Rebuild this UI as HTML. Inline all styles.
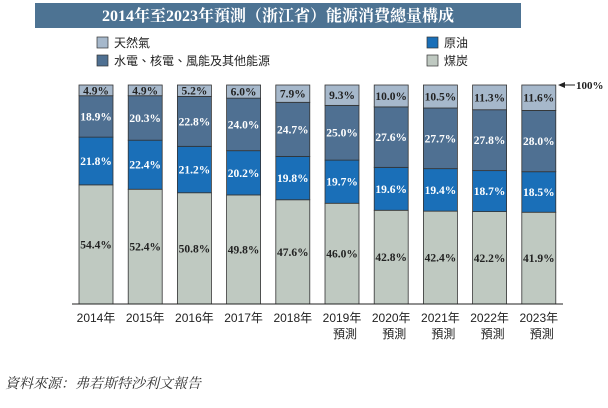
<!DOCTYPE html>
<html><head><meta charset="utf-8"><style>
body{margin:0;background:#fff;width:608px;height:403px;overflow:hidden;font-family:"Liberation Sans","Noto Sans CJK TC",sans-serif}
</style></head><body>
<svg id="chart" width="608" height="403" xmlns="http://www.w3.org/2000/svg">
<rect x="35" y="3" width="486" height="25" fill="#4d7393"/>
<text x="278" y="21" text-anchor="middle" fill="#fff" font-size="16" font-weight="bold" font-family="Liberation Serif,Noto Serif CJK SC,serif">2014年至2023年預測（浙江省）能源消費總量構成</text>
<g>
<rect x="97" y="37" width="11" height="11" fill="#a6b8cb" stroke="#333" stroke-width="0.7"/>
<text x="114" y="47" font-size="12" fill="#222">天然氣</text>
<rect x="97" y="55" width="11" height="11" fill="#4f7092" stroke="#333" stroke-width="0.7"/>
<text x="114" y="65" font-size="12" fill="#222">水電、核電、風能及其他能源</text>
<rect x="427" y="37" width="11" height="11" fill="#1a6fb8" stroke="#333" stroke-width="0.7"/>
<text x="444" y="47" font-size="12" fill="#222">原油</text>
<rect x="427" y="55" width="11" height="11" fill="#bfc9c1" stroke="#333" stroke-width="0.7"/>
<text x="444" y="65" font-size="12" fill="#222">煤炭</text>
</g>
<g id="bars"></g>
<line x1="72" y1="304" x2="563" y2="304" stroke="#222" stroke-width="1"/>
<g>
<line x1="562" y1="85" x2="575" y2="85" stroke="#222" stroke-width="1"/>
<polygon points="558,85 565,82 565,88" fill="#222"/>
<text x="576" y="89" font-size="11" font-weight="bold" font-family="Liberation Serif,serif" fill="#222">100%</text>
</g>
<text x="5" y="388" font-size="14" font-style="italic" fill="#333" font-family="Liberation Serif,Noto Serif CJK SC,serif">資料來源：弗若斯特沙利文報告</text>
</svg>
<script>
const years=["2014年","2015年","2016年","2017年","2018年","2019年","2020年","2021年","2022年","2023年"];
const forecast=[false,false,false,false,false,true,true,true,true,true];
const coal=[54.4,52.4,50.8,49.8,47.6,46.0,42.8,42.4,42.2,41.9];
const oil=[21.8,22.4,21.2,20.2,19.8,19.7,19.6,19.4,18.7,18.5];
const hydro=[18.9,20.3,22.8,24.0,24.7,25.0,27.6,27.7,27.8,28.0];
const gas=[4.9,4.9,5.2,6.0,7.9,9.3,10.0,10.5,11.3,11.6];
const NS="http://www.w3.org/2000/svg";
const g=document.getElementById('bars');
const base=304,top_=85,x0=79,pitch=49.2,bw=34;
function yScale(v){return base-(v/100)*(base-top_);}
function xPos(i){return x0+i*pitch;}
const series=[{vals:coal,fill:"#bfc9c1",tc:"#222",n:"coal"},{vals:oil,fill:"#1a6fb8",tc:"#fff",n:"oil"},{vals:hydro,fill:"#4f7092",tc:"#fff",n:"hydro"},{vals:gas,fill:"#a6b8cb",tc:"#222",n:"gas"}];
years.forEach((yr,i)=>{
  const tot=coal[i]+oil[i]+hydro[i]+gas[i];
  let cum=0;
  series.forEach(s=>{
    const v=s.vals[i]*100/tot;
    const y1=yScale(cum+v),y2=yScale(cum);
    const r=document.createElementNS(NS,'rect');
    r.setAttribute('x',xPos(i));r.setAttribute('y',y1);r.setAttribute('width',bw);r.setAttribute('height',y2-y1);
    r.setAttribute('fill',s.fill);r.setAttribute('stroke','#333');r.setAttribute('stroke-width','0.8');
    
    
    g.appendChild(r);
    const t=document.createElementNS(NS,'text');
    t.setAttribute('x',xPos(i)+bw/2);t.setAttribute('y',(y1+y2)/2+4);
    t.setAttribute('text-anchor','middle');t.setAttribute('font-size','11.5');t.setAttribute('font-weight','bold');
    t.setAttribute('font-family','Liberation Serif,serif');t.setAttribute('fill',s.tc);
    t.textContent=s.vals[i].toFixed(1)+'%';
    
    
    g.appendChild(t);
    cum+=v;
  });
  const l=document.createElementNS(NS,'text');
  l.setAttribute('x',xPos(i)+bw/2);l.setAttribute('y',322);l.setAttribute('text-anchor','middle');
  l.setAttribute('font-size','12');l.setAttribute('fill','#222');l.textContent=yr;
  
  
  g.appendChild(l);
  if(forecast[i]){
    const f=document.createElementNS(NS,'text');
    f.setAttribute('x',xPos(i)+bw/2+3);f.setAttribute('y',338);f.setAttribute('text-anchor','middle');
    f.setAttribute('font-size','12');f.setAttribute('fill','#222');f.textContent='預測';
    
    
    g.appendChild(f);
  }
});
</script>
</body></html>
